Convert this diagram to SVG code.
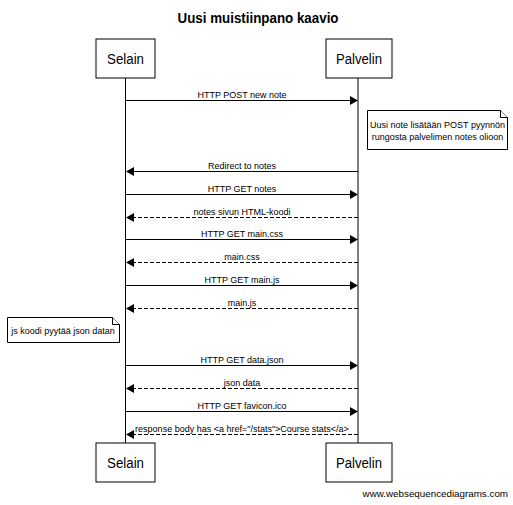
<svg xmlns="http://www.w3.org/2000/svg" width="513" height="505" viewBox="0 0 513 505">
<style>
text{font-family:"Liberation Sans",Arial,sans-serif;fill:#000}
.title{font-size:15px;font-weight:bold;text-anchor:middle}
.actor{font-size:14px;text-anchor:middle}
.lbl{font-size:9px;text-anchor:middle}
.nt{font-size:9px;text-anchor:middle}
.box{fill:#fff;stroke:#000;stroke-width:1}
.life{stroke:#000;stroke-width:1}
.msg{stroke:#000;stroke-width:1;fill:none}
.dash{stroke-dasharray:4,2}
.note{fill:#fff;stroke:#000;stroke-width:1}
.head{fill:#000}
</style>
<rect width="513" height="505" fill="#fff"/>
<text class="title" x="258" y="22.5" textLength="161" lengthAdjust="spacingAndGlyphs">Uusi muistiinpano kaavio</text>

<g id="lifelines">
<line class="life" x1="125.5" y1="78" x2="125.5" y2="443"/>
<line class="life" x1="358" y1="78" x2="358" y2="443"/>
</g>

<g id="selain-top"><rect class="box" x="96" y="39" width="59" height="39"/><text class="actor" x="125.5" y="63.5" textLength="37" lengthAdjust="spacingAndGlyphs">Selain</text></g>
<g id="palvelin-top"><rect class="box" x="326" y="39" width="66" height="39"/><text class="actor" x="359" y="63.5" textLength="46" lengthAdjust="spacingAndGlyphs">Palvelin</text></g>
<g id="selain-bottom"><rect class="box" x="96" y="443" width="59" height="39"/><text class="actor" x="125.5" y="467.5" textLength="37" lengthAdjust="spacingAndGlyphs">Selain</text></g>
<g id="palvelin-bottom"><rect class="box" x="326" y="443" width="66" height="39"/><text class="actor" x="359" y="467.5" textLength="46" lengthAdjust="spacingAndGlyphs">Palvelin</text></g>

<g id="note1">
<path class="note" d="M367.5,110.5 H500.5 L507.5,117.5 V149.5 H367.5 Z"/>
<path class="note" d="M500.5,110.5 V117.5 H507.5" fill="none"/>
<text class="nt" x="437.5" y="128">Uusi note lisätään POST pyynnön</text>
<text class="nt" x="437.5" y="140">rungosta palvelimen notes olioon</text>
</g>
<g id="note2">
<path class="note" d="M7.5,317.5 H112.5 L119.5,324.5 V342.5 H7.5 Z"/>
<path class="note" d="M112.5,317.5 V324.5 H119.5" fill="none"/>
<text class="nt" x="63" y="334">js koodi pyytää json datan</text>
</g>

<g id="connectors">
<line class="msg" x1="126" y1="100.5" x2="350" y2="100.5"/>
<polygon class="head" points="358,100.5 350,96 350,105"/>
<text class="lbl" x="242" y="97.5">HTTP POST new note</text>

<line class="msg" x1="358" y1="171.5" x2="134" y2="171.5"/>
<polygon class="head" points="126,171.5 134,167 134,176"/>
<text class="lbl" x="242" y="168.5">Redirect to notes</text>

<line class="msg" x1="126" y1="194.5" x2="350" y2="194.5"/>
<polygon class="head" points="358,194.5 350,190 350,199"/>
<text class="lbl" x="242" y="191.5">HTTP GET notes</text>

<line class="msg dash" x1="358" y1="217.5" x2="134" y2="217.5"/>
<polygon class="head" points="126,217.5 134,213 134,222"/>
<text class="lbl" x="242" y="214.5">notes sivun HTML-koodi</text>

<line class="msg" x1="126" y1="239.5" x2="350" y2="239.5"/>
<polygon class="head" points="358,239.5 350,235 350,244"/>
<text class="lbl" x="242" y="236.5">HTTP GET main.css</text>

<line class="msg dash" x1="358" y1="262.5" x2="134" y2="262.5"/>
<polygon class="head" points="126,262.5 134,258 134,267"/>
<text class="lbl" x="242" y="259.5">main.css</text>

<line class="msg" x1="126" y1="285.5" x2="350" y2="285.5"/>
<polygon class="head" points="358,285.5 350,281 350,290"/>
<text class="lbl" x="242" y="282.5">HTTP GET main.js</text>

<line class="msg dash" x1="358" y1="308.5" x2="134" y2="308.5"/>
<polygon class="head" points="126,308.5 134,304 134,313"/>
<text class="lbl" x="242" y="305.5">main.js</text>

<line class="msg" x1="126" y1="365.5" x2="350" y2="365.5"/>
<polygon class="head" points="358,365.5 350,361 350,370"/>
<text class="lbl" x="242" y="362.5">HTTP GET data.json</text>

<line class="msg dash" x1="358" y1="388.5" x2="134" y2="388.5"/>
<polygon class="head" points="126,388.5 134,384 134,393"/>
<text class="lbl" x="242" y="385.5">json data</text>

<line class="msg" x1="126" y1="411.5" x2="350" y2="411.5"/>
<polygon class="head" points="358,411.5 350,407 350,416"/>
<text class="lbl" x="242" y="408.5">HTTP GET favicon.ico</text>

<line class="msg dash" x1="358" y1="434.5" x2="134" y2="434.5"/>
<polygon class="head" points="126,434.5 134,430 134,439"/>
<text class="lbl" x="242" y="431.5">response body has &lt;a href="/stats"&gt;Course stats&lt;/a&gt;</text>
</g>

<text x="508" y="497" style="font-size:9.8px;text-anchor:end">www.websequencediagrams.com</text>
</svg>
